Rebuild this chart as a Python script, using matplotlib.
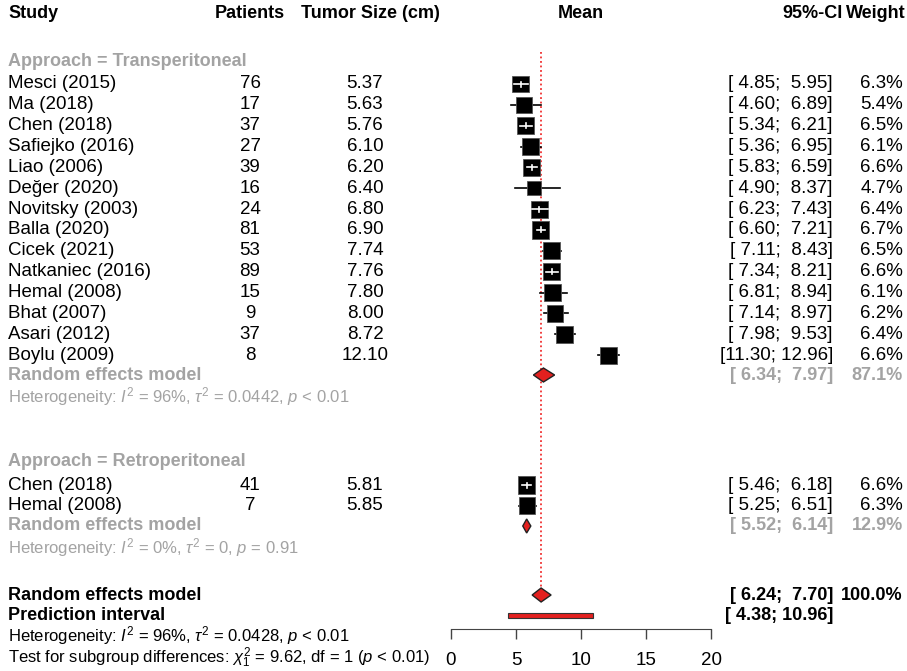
import numpy as np
import matplotlib.pyplot as plt
import matplotlib.transforms as mtransforms
from matplotlib.patches import Rectangle, Polygon

plt.rcParams['font.family'] = ['Liberation Sans', 'DejaVu Sans']
plt.rcParams['mathtext.fontset'] = 'custom'
plt.rcParams['mathtext.rm'] = 'Liberation Sans'
plt.rcParams['mathtext.it'] = 'Liberation Sans:italic'
plt.rcParams['mathtext.bf'] = 'Liberation Sans:bold'

# --- Transperitoneal studies ---
trans_study = ["Mesci (2015)", "Ma (2018)", "Chen (2018)", "Safiejko (2016)", "Liao (2006)",
               "Değer (2020)", "Novitsky (2003)", "Balla (2020)", "Cicek (2021)",
               "Natkaniec (2016)", "Hemal (2008)", "Bhat (2007)", "Asari (2012)", "Boylu (2009)"]
trans_n = [76, 17, 37, 27, 39, 16, 24, 81, 53, 89, 15, 9, 37, 8]
trans_mean = [5.37, 5.63, 5.76, 6.10, 6.20, 6.40, 6.80, 6.90, 7.74, 7.76, 7.80, 8.00, 8.72, 12.10]
trans_lo = [4.85, 4.60, 5.34, 5.36, 5.83, 4.90, 6.23, 6.60, 7.11, 7.34, 6.81, 7.14, 7.98, 11.30]
trans_hi = [5.95, 6.89, 6.21, 6.95, 6.59, 8.37, 7.43, 7.21, 8.43, 8.21, 8.94, 8.97, 9.53, 12.96]
trans_w = [6.3, 5.4, 6.5, 6.1, 6.6, 4.7, 6.4, 6.7, 6.5, 6.6, 6.1, 6.2, 6.4, 6.6]

# --- Retroperitoneal studies ---
retro_study = ["Chen (2018)", "Hemal (2008)"]
retro_n = [41, 7]
retro_mean = [5.81, 5.85]
retro_lo = [5.46, 5.25]
retro_hi = [6.18, 6.51]
retro_w = [6.6, 6.3]

# --- pooled estimates: [transperitoneal, retroperitoneal, overall] ---
pool_est = [7.11, 5.82, 6.93]
pool_lo = [6.34, 5.52, 6.24]
pool_hi = [7.97, 6.14, 7.70]
pool_w = ["87.1%", "12.9%", "100.0%"]
pi_lo, pi_hi = 4.38, 10.96

het_trans = r"Heterogeneity: $I^2$ = 96%, $\tau^2$ = 0.0442, $p$ < 0.01"
het_retro = r"Heterogeneity: $I^2$ = 0%, $\tau^2$ = 0, $p$ = 0.91"
het_all = r"Heterogeneity: $I^2$ = 96%, $\tau^2$ = 0.0428, $p$ < 0.01"
test_sub = r"Test for subgroup differences: $\chi^2_1$ = 9.62, df = 1 ($p$ < 0.01)"

W, H = 907, 671
fig = plt.figure(figsize=(W / 100, H / 100), dpi=100)
ax = fig.add_axes([451 / W, 0, 260 / W, 1])
ax.set_xlim(0, 20)
ax.set_ylim(H, 0)
ax.patch.set_alpha(0)
for s in ['top', 'left', 'right']:
    ax.spines[s].set_visible(False)
ax.spines['bottom'].set_position(('data', 629))
ax.spines['bottom'].set_bounds(0, 20)
ax.spines['bottom'].set_color('#444444')
ax.set_xticks([0, 5, 10, 15, 20])
ax.tick_params(axis='x', length=7.5, width=1, color='#444444', pad=9, labelsize=13.5)
ax.set_yticks([])

px_per_unit = 260 / 20
tr = mtransforms.blended_transform_factory(fig.transFigure, ax.transData)
FS = 13.5
FSB = 13
GRAY = '#A3A3A3'
RED = '#E3201F'


def txt(xp, y, s, ha='left', **kw):
    size = kw.pop('fs', FSB if kw.get('fontweight') == 'bold' else FS)
    ax.text(xp / W, y, s, transform=tr, ha=ha, va='center', fontsize=size, **kw)


def fmt_ci(lo, hi):
    return f"[{lo:5.2f}; {hi:5.2f}]"


def study_row(y, name, n, m, lo, hi, w):
    txt(8, y, name)
    txt(250, y, str(n), ha='center')
    txt(365, y, f"{m:.2f}", ha='center')
    txt(833, y, fmt_ci(lo, hi), ha='right')
    txt(903, y, f"{w:.1f}%", ha='right')
    side = 6.65 * np.sqrt(w)
    half_x = side / 2 / px_per_unit
    ax.plot([lo, hi], [y, y], color='black', lw=1.2, zorder=2)
    ax.add_patch(Rectangle((m - half_x, y - side / 2), 2 * half_x, side,
                           facecolor='black', edgecolor='#555555', lw=0.6, zorder=3))
    # CI fully inside the box is drawn in white
    if lo > m - half_x and hi < m + half_x:
        ax.plot([lo, hi], [y, y], color='white', lw=1.2, zorder=4)
        ax.plot([m, m], [y - 2.5, y + 2.5], color='white', lw=1.2, zorder=4)


def diamond(y, est, lo, hi, h=7):
    ax.add_patch(Polygon([[lo, y], [est, y - h], [hi, y], [est, y + h]],
                         closed=True, facecolor=RED, edgecolor='#222222', lw=1, zorder=3))


# header
txt(8, 14, "Study", fontweight='bold')
txt(250, 14, "Patients", ha='center', fontweight='bold')
txt(370, 14, "Tumor Size (cm)", ha='center', fontweight='bold')
txt(581, 14, "Mean", ha='center', fontweight='bold')
txt(843, 14, "95%-CI", ha='right', fontweight='bold')
txt(906, 14, "Weight", ha='right', fontweight='bold')

# transperitoneal group
txt(8, 62, "Approach = Transperitoneal", color=GRAY, fontweight='bold')
rows_t = 84 + 20.85 * np.arange(len(trans_study))
for i, y in enumerate(rows_t):
    study_row(y, trans_study[i], trans_n[i], trans_mean[i], trans_lo[i], trans_hi[i], trans_w[i])
txt(8, 375, "Random effects model", color=GRAY, fontweight='bold')
diamond(375, pool_est[0], pool_lo[0], pool_hi[0])
txt(833, 375, fmt_ci(pool_lo[0], pool_hi[0]), ha='right', color=GRAY, fontweight='bold')
txt(903, 375, pool_w[0], ha='right', color=GRAY, fontweight='bold')
txt(8, 397, het_trans, color=GRAY, fs=12)

# retroperitoneal group
txt(8, 462, "Approach = Retroperitoneal", color=GRAY, fontweight='bold')
rows_r = 485 + 20.5 * np.arange(len(retro_study))
for i, y in enumerate(rows_r):
    study_row(y, retro_study[i], retro_n[i], retro_mean[i], retro_lo[i], retro_hi[i], retro_w[i])
txt(8, 526, "Random effects model", color=GRAY, fontweight='bold')
diamond(526, pool_est[1], pool_lo[1], pool_hi[1])
txt(833, 526, fmt_ci(pool_lo[1], pool_hi[1]), ha='right', color=GRAY, fontweight='bold')
txt(903, 526, pool_w[1], ha='right', color=GRAY, fontweight='bold')
txt(8, 548, het_retro, color=GRAY, fs=12)

# overall
txt(8, 595, "Random effects model", fontweight='bold')
diamond(595, pool_est[2], pool_lo[2], pool_hi[2])
txt(833, 595, fmt_ci(pool_lo[2], pool_hi[2]), ha='right', fontweight='bold')
txt(903, 595, pool_w[2], ha='right', fontweight='bold')
txt(8, 615, "Prediction interval", fontweight='bold')
ax.add_patch(Rectangle((pi_lo, 615 - 2.5), pi_hi - pi_lo, 5,
                       facecolor=RED, edgecolor='#333333', lw=0.8, zorder=3))
txt(833, 615, fmt_ci(pi_lo, pi_hi), ha='right', fontweight='bold')
txt(8, 636, het_all, fs=12)
txt(8, 658, test_sub, fs=12)

# reference line at the overall estimate
ax.plot([pool_est[2], pool_est[2]], [52, 588], color='#F03030', lw=1.3,
        linestyle=(0, (1, 1.5)), zorder=1)

fig.savefig("out.png", dpi=100)
